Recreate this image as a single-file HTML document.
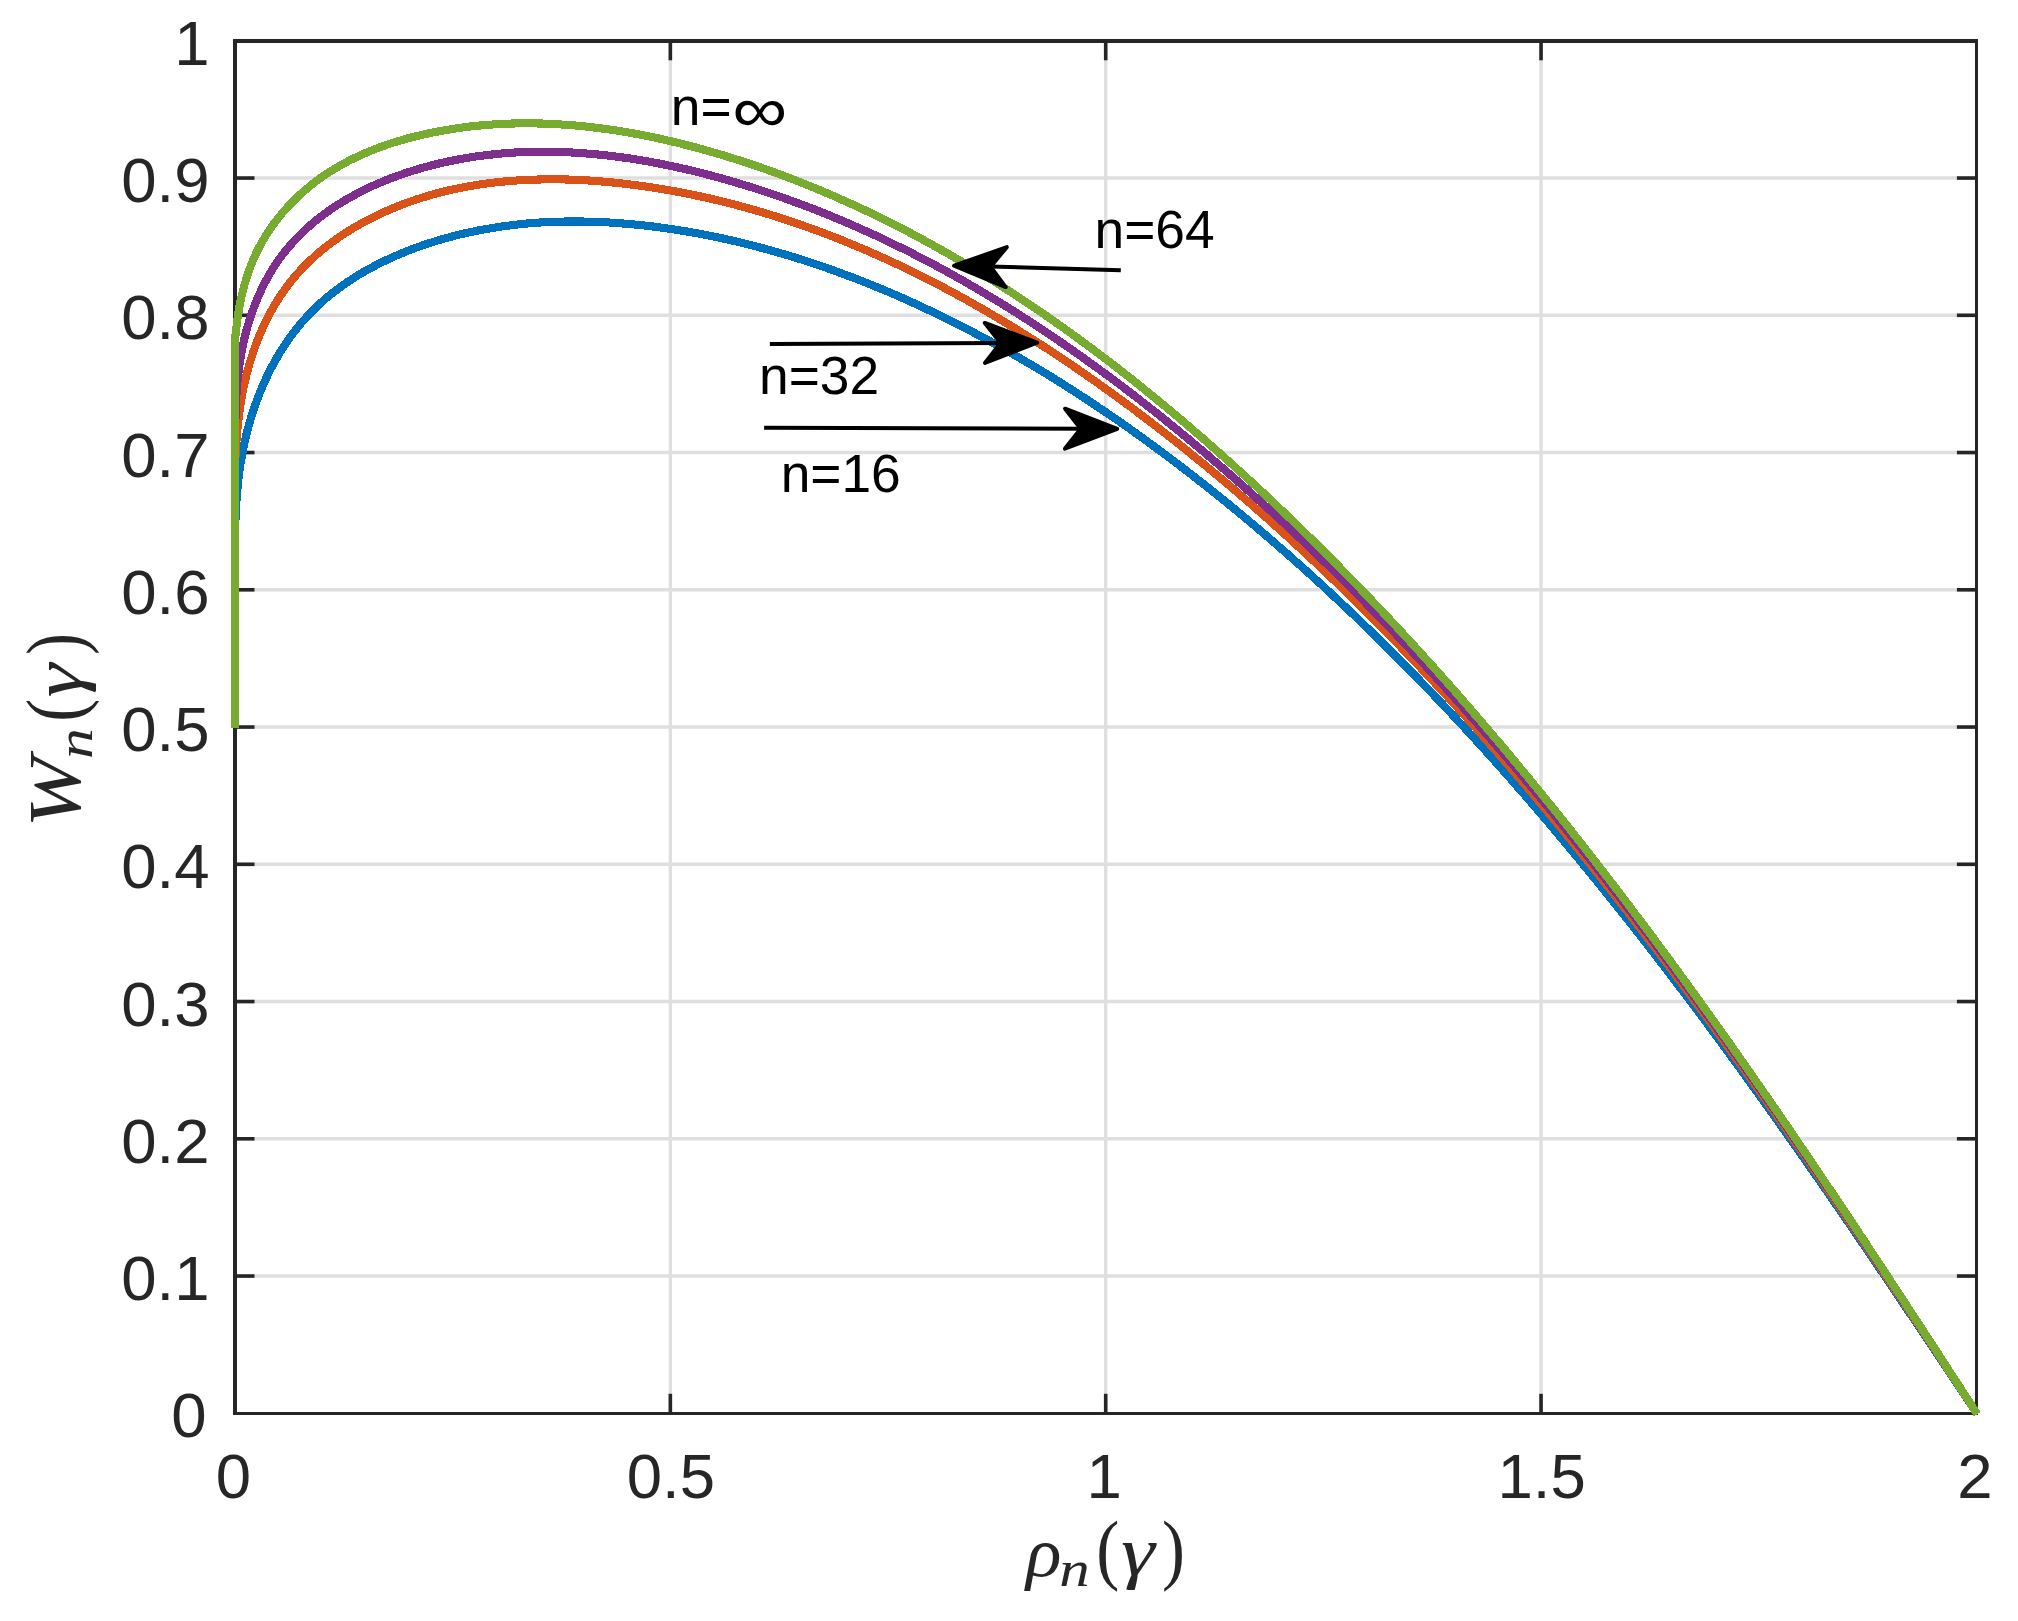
<!DOCTYPE html>
<html><head><meta charset="utf-8"><title>W_n vs rho_n</title>
<style>
html,body{margin:0;padding:0;background:#fff;overflow:hidden;}
svg{display:block;}
.tk{font-family:"Liberation Sans",sans-serif;font-size:63.5px;fill:#262626;}
.an{font-family:"Liberation Sans",sans-serif;font-size:53.3px;fill:#000;}
</style></head>
<body>
<svg width="2018" height="1621" viewBox="0 0 2018 1621">
<rect x="0" y="0" width="2018" height="1621" fill="#fff"/>
<g stroke="#dfdfdf" stroke-width="3.4" fill="none">
<line x1="235.00" x2="1976.40" y1="1276.05" y2="1276.05"/>
<line x1="235.00" x2="1976.40" y1="1138.80" y2="1138.80"/>
<line x1="235.00" x2="1976.40" y1="1001.55" y2="1001.55"/>
<line x1="235.00" x2="1976.40" y1="864.30" y2="864.30"/>
<line x1="235.00" x2="1976.40" y1="727.05" y2="727.05"/>
<line x1="235.00" x2="1976.40" y1="589.80" y2="589.80"/>
<line x1="235.00" x2="1976.40" y1="452.55" y2="452.55"/>
<line x1="235.00" x2="1976.40" y1="315.30" y2="315.30"/>
<line x1="235.00" x2="1976.40" y1="178.05" y2="178.05"/>
<line x1="670.35" x2="670.35" y1="1413.30" y2="40.80"/>
<line x1="1105.70" x2="1105.70" y1="1413.30" y2="40.80"/>
<line x1="1541.05" x2="1541.05" y1="1413.30" y2="40.80"/>
</g>
<g stroke="#262626" stroke-width="3.6" fill="none">
<line x1="235.00" x2="254.50" y1="1276.05" y2="1276.05"/>
<line x1="1976.40" x2="1956.90" y1="1276.05" y2="1276.05"/>
<line x1="235.00" x2="254.50" y1="1138.80" y2="1138.80"/>
<line x1="1976.40" x2="1956.90" y1="1138.80" y2="1138.80"/>
<line x1="235.00" x2="254.50" y1="1001.55" y2="1001.55"/>
<line x1="1976.40" x2="1956.90" y1="1001.55" y2="1001.55"/>
<line x1="235.00" x2="254.50" y1="864.30" y2="864.30"/>
<line x1="1976.40" x2="1956.90" y1="864.30" y2="864.30"/>
<line x1="235.00" x2="254.50" y1="727.05" y2="727.05"/>
<line x1="1976.40" x2="1956.90" y1="727.05" y2="727.05"/>
<line x1="235.00" x2="254.50" y1="589.80" y2="589.80"/>
<line x1="1976.40" x2="1956.90" y1="589.80" y2="589.80"/>
<line x1="235.00" x2="254.50" y1="452.55" y2="452.55"/>
<line x1="1976.40" x2="1956.90" y1="452.55" y2="452.55"/>
<line x1="235.00" x2="254.50" y1="315.30" y2="315.30"/>
<line x1="1976.40" x2="1956.90" y1="315.30" y2="315.30"/>
<line x1="235.00" x2="254.50" y1="178.05" y2="178.05"/>
<line x1="1976.40" x2="1956.90" y1="178.05" y2="178.05"/>
<line x1="670.35" x2="670.35" y1="1413.30" y2="1393.80"/>
<line x1="670.35" x2="670.35" y1="40.80" y2="60.30"/>
<line x1="1105.70" x2="1105.70" y1="1413.30" y2="1393.80"/>
<line x1="1105.70" x2="1105.70" y1="40.80" y2="60.30"/>
<line x1="1541.05" x2="1541.05" y1="1413.30" y2="1393.80"/>
<line x1="1541.05" x2="1541.05" y1="40.80" y2="60.30"/>
</g>
<g stroke="#262626" fill="none">
<line x1="235" y1="39" x2="235" y2="1415" stroke-width="4"/>
<line x1="233" y1="41" x2="1978" y2="41" stroke-width="3.8"/>
<line x1="1976.5" y1="39" x2="1976.5" y2="1415" stroke-width="3"/>
<line x1="233" y1="1413.5" x2="1978" y2="1413.5" stroke-width="3"/>
</g>
<g fill="none" stroke-width="8.1" stroke-linejoin="round" stroke-linecap="butt" shape-rendering="crispEdges">
<path d="M235.0 728.0 L235.0 582.6 L235.0 576.0 L235.0 569.4 L235.0 562.8 L235.0 556.2 L235.0 549.6 L235.0 543.0 L235.0 536.4 L235.2 529.7 L235.3 523.1 L235.6 516.5 L235.9 509.9 L236.3 503.3 L236.7 496.7 L237.3 490.2 L237.9 483.6 L238.7 477.0 L239.5 470.5 L240.5 463.9 L241.6 457.4 L242.8 450.9 L244.1 444.4 L245.6 437.9 L247.1 431.5 L248.9 425.1 L250.7 418.7 L252.7 412.4 L254.8 406.1 L257.1 399.9 L259.4 393.7 L262.0 387.6 L264.6 381.6 L267.4 375.6 L270.3 369.7 L273.4 363.9 L276.6 358.2 L279.9 352.6 L283.4 347.0 L287.0 341.6 L290.8 336.3 L294.7 331.1 L298.7 326.0 L302.9 321.1 L307.3 316.3 L311.7 311.6 L316.4 307.0 L321.1 302.6 L326.0 298.3 L331.0 294.2 L336.2 290.2 L341.4 286.3 L346.8 282.5 L352.3 278.9 L357.8 275.4 L363.5 272.0 L369.3 268.8 L375.1 265.7 L381.0 262.7 L387.0 259.8 L393.0 257.0 L399.1 254.4 L405.3 251.8 L411.5 249.4 L417.7 247.1 L424.0 244.9 L430.4 242.8 L436.7 240.8 L443.1 238.9 L449.4 237.2 L455.8 235.5 L462.2 233.9 L468.7 232.5 L475.1 231.1 L481.6 229.8 L488.1 228.7 L494.6 227.6 L501.1 226.6 L507.6 225.7 L514.1 224.9 L520.7 224.2 L527.2 223.5 L533.8 223.0 L540.3 222.5 L546.9 222.2 L553.4 221.9 L560.0 221.7 L566.6 221.5 L573.2 221.5 L579.8 221.5 L586.4 221.6 L592.9 221.8 L599.5 222.0 L606.1 222.3 L612.7 222.7 L619.3 223.2 L625.8 223.7 L632.4 224.3 L639.0 224.9 L645.5 225.6 L652.1 226.4 L658.6 227.2 L665.1 228.1 L671.7 229.1 L678.2 230.1 L684.7 231.1 L691.1 232.2 L697.6 233.4 L704.1 234.6 L710.5 235.9 L717.0 237.2 L723.4 238.6 L729.8 240.0 L736.2 241.5 L742.6 243.0 L749.0 244.6 L755.3 246.2 L761.7 247.9 L768.0 249.6 L774.4 251.4 L780.7 253.2 L787.0 255.1 L793.3 257.0 L799.5 258.9 L805.8 260.9 L812.0 263.0 L818.3 265.1 L824.5 267.2 L830.7 269.4 L836.9 271.6 L843.0 273.9 L849.2 276.2 L855.4 278.5 L861.5 280.9 L867.6 283.3 L873.7 285.8 L879.8 288.3 L885.9 290.8 L891.9 293.4 L898.0 296.0 L904.0 298.7 L910.0 301.4 L916.0 304.1 L922.0 306.9 L927.9 309.7 L933.9 312.5 L939.8 315.4 L945.7 318.3 L951.6 321.2 L957.5 324.2 L963.4 327.2 L969.2 330.2 L975.1 333.3 L980.9 336.4 L986.7 339.5 L992.5 342.6 L998.2 345.8 L1004.0 349.0 L1009.7 352.3 L1015.4 355.5 L1021.1 358.8 L1026.8 362.2 L1032.5 365.5 L1038.2 368.9 L1043.8 372.3 L1049.4 375.7 L1055.0 379.2 L1060.6 382.7 L1066.2 386.2 L1071.7 389.8 L1077.3 393.3 L1082.8 396.9 L1088.3 400.5 L1093.8 404.2 L1099.3 407.9 L1104.8 411.5 L1110.2 415.3 L1115.6 419.0 L1121.1 422.7 L1126.5 426.5 L1131.8 430.3 L1137.2 434.2 L1142.6 438.0 L1147.9 441.9 L1153.2 445.8 L1158.5 449.7 L1163.8 453.6 L1169.1 457.6 L1174.4 461.5 L1179.6 465.5 L1184.9 469.5 L1190.1 473.6 L1195.3 477.6 L1200.5 481.7 L1205.7 485.7 L1210.8 489.8 L1216.0 494.0 L1221.1 498.1 L1226.2 502.2 L1231.3 506.4 L1236.4 510.6 L1241.5 514.8 L1246.5 519.0 L1251.6 523.2 L1256.6 527.5 L1261.6 531.7 L1266.6 536.0 L1271.6 540.3 L1276.6 544.6 L1281.5 548.9 L1286.5 553.2 L1291.4 557.6 L1296.3 562.0 L1301.2 566.3 L1306.1 570.7 L1311.0 575.1 L1315.8 579.6 L1320.7 584.0 L1325.5 588.4 L1330.3 592.9 L1335.1 597.4 L1339.9 601.9 L1344.7 606.4 L1349.5 610.9 L1354.2 615.4 L1359.0 620.0 L1363.7 624.5 L1368.4 629.1 L1373.1 633.7 L1377.8 638.3 L1382.5 642.9 L1387.2 647.5 L1391.8 652.1 L1396.5 656.8 L1401.1 661.4 L1405.7 666.1 L1410.3 670.8 L1414.9 675.5 L1419.5 680.2 L1424.1 684.9 L1428.6 689.7 L1433.2 694.4 L1437.7 699.2 L1442.2 703.9 L1446.8 708.7 L1451.3 713.5 L1455.7 718.3 L1460.2 723.1 L1464.7 727.9 L1469.1 732.8 L1473.6 737.6 L1478.0 742.5 L1482.4 747.4 L1486.9 752.2 L1491.3 757.1 L1495.7 762.0 L1500.0 766.9 L1504.4 771.9 L1508.8 776.8 L1513.1 781.7 L1517.4 786.7 L1521.8 791.6 L1526.1 796.6 L1530.4 801.6 L1534.7 806.6 L1539.0 811.6 L1543.3 816.6 L1547.5 821.6 L1551.8 826.6 L1556.0 831.7 L1560.3 836.7 L1564.5 841.8 L1568.7 846.8 L1572.9 851.9 L1577.1 857.0 L1581.3 862.1 L1585.5 867.2 L1589.7 872.3 L1593.8 877.4 L1598.0 882.5 L1602.1 887.6 L1606.3 892.8 L1610.4 897.9 L1614.5 903.1 L1618.6 908.2 L1622.7 913.4 L1626.8 918.6 L1630.9 923.7 L1635.0 928.9 L1639.1 934.1 L1643.1 939.3 L1647.2 944.5 L1651.2 949.8 L1655.3 955.0 L1659.3 960.2 L1663.3 965.4 L1667.3 970.7 L1671.3 975.9 L1675.3 981.2 L1679.3 986.5 L1683.3 991.7 L1687.3 997.0 L1691.2 1002.3 L1695.2 1007.6 L1699.1 1012.9 L1703.1 1018.1 L1707.0 1023.4 L1711.0 1028.8 L1714.9 1034.1 L1718.8 1039.4 L1722.7 1044.7 L1726.6 1050.0 L1730.5 1055.4 L1734.4 1060.7 L1738.3 1066.0 L1742.2 1071.4 L1746.0 1076.7 L1749.9 1082.1 L1753.7 1087.5 L1757.6 1092.8 L1761.4 1098.2 L1765.3 1103.6 L1769.1 1108.9 L1773.0 1114.3 L1776.8 1119.7 L1780.6 1125.1 L1784.4 1130.5 L1788.2 1135.9 L1792.0 1141.3 L1795.8 1146.7 L1799.6 1152.1 L1803.4 1157.5 L1807.2 1162.9 L1810.9 1168.3 L1814.7 1173.7 L1818.5 1179.1 L1822.2 1184.5 L1826.0 1189.9 L1829.7 1195.4 L1833.5 1200.8 L1837.2 1206.2 L1840.9 1211.6 L1844.7 1217.1 L1848.4 1222.5 L1852.1 1227.9 L1855.8 1233.4 L1859.5 1238.8 L1863.2 1244.3 L1867.0 1249.7 L1870.7 1255.1 L1874.3 1260.6 L1878.0 1266.0 L1881.7 1271.5 L1885.4 1276.9 L1889.1 1282.4 L1892.8 1287.8 L1896.4 1293.3 L1900.1 1298.7 L1903.8 1304.2 L1907.4 1309.6 L1911.1 1315.1 L1914.8 1320.5 L1918.4 1325.9 L1922.1 1331.4 L1925.7 1336.8 L1929.4 1342.3 L1933.0 1347.7 L1936.6 1353.2 L1940.3 1358.6 L1943.9 1364.1 L1947.5 1369.5 L1951.2 1375.0 L1954.8 1380.4 L1958.4 1385.8 L1962.0 1391.3 L1965.7 1396.7 L1969.3 1402.2 L1972.9 1407.6 L1977.2 1414.0" stroke="#0072BD"/>
<path d="M235.0 728.0 L235.0 544.7 L235.0 538.0 L235.0 531.2 L235.0 524.4 L235.0 517.7 L235.0 510.9 L235.0 504.1 L235.0 497.3 L235.0 490.5 L235.0 483.7 L235.0 476.9 L235.0 470.1 L235.2 463.3 L235.5 456.5 L235.9 449.6 L236.3 442.8 L236.8 436.0 L237.4 429.2 L238.1 422.4 L238.9 415.7 L239.8 408.9 L240.8 402.2 L242.0 395.4 L243.3 388.7 L244.8 382.1 L246.3 375.5 L248.1 368.9 L249.9 362.3 L252.0 355.9 L254.1 349.5 L256.4 343.1 L258.9 336.8 L261.5 330.7 L264.3 324.5 L267.2 318.5 L270.3 312.6 L273.6 306.8 L277.0 301.1 L280.6 295.5 L284.4 290.0 L288.4 284.6 L292.5 279.4 L296.8 274.3 L301.2 269.4 L305.9 264.6 L310.7 259.9 L315.7 255.4 L320.8 251.0 L326.0 246.8 L331.4 242.7 L336.9 238.7 L342.5 234.9 L348.2 231.2 L354.1 227.6 L360.0 224.2 L366.0 220.9 L372.0 217.8 L378.2 214.8 L384.4 211.9 L390.6 209.2 L396.9 206.6 L403.2 204.1 L409.6 201.8 L416.0 199.6 L422.4 197.5 L428.9 195.6 L435.4 193.7 L441.9 192.0 L448.5 190.4 L455.1 189.0 L461.7 187.6 L468.4 186.3 L475.0 185.2 L481.7 184.2 L488.4 183.2 L495.2 182.4 L501.9 181.7 L508.7 181.1 L515.4 180.6 L522.2 180.1 L529.0 179.8 L535.8 179.6 L542.7 179.4 L549.5 179.3 L556.3 179.3 L563.1 179.4 L570.0 179.6 L576.8 179.9 L583.6 180.2 L590.4 180.6 L597.3 181.1 L604.1 181.7 L610.9 182.3 L617.7 183.0 L624.4 183.7 L631.2 184.6 L638.0 185.4 L644.7 186.4 L651.4 187.4 L658.1 188.4 L664.8 189.5 L671.5 190.7 L678.1 191.9 L684.8 193.2 L691.4 194.5 L698.0 195.9 L704.6 197.3 L711.2 198.8 L717.8 200.4 L724.3 202.0 L730.8 203.6 L737.3 205.3 L743.8 207.1 L750.3 208.9 L756.8 210.7 L763.2 212.6 L769.7 214.6 L776.1 216.6 L782.5 218.6 L788.9 220.7 L795.2 222.9 L801.6 225.1 L807.9 227.3 L814.3 229.6 L820.6 231.9 L826.9 234.3 L833.1 236.7 L839.4 239.2 L845.6 241.7 L851.9 244.3 L858.1 246.9 L864.3 249.5 L870.4 252.2 L876.6 254.9 L882.8 257.7 L888.9 260.5 L895.0 263.3 L901.1 266.2 L907.2 269.1 L913.3 272.1 L919.3 275.0 L925.3 278.1 L931.4 281.1 L937.4 284.3 L943.4 287.4 L949.3 290.6 L955.3 293.8 L961.2 297.0 L967.1 300.3 L973.0 303.6 L978.9 307.0 L984.8 310.3 L990.7 313.8 L996.5 317.2 L1002.3 320.7 L1008.2 324.2 L1014.0 327.7 L1019.7 331.3 L1025.5 334.9 L1031.2 338.5 L1037.0 342.1 L1042.7 345.8 L1048.4 349.5 L1054.1 353.3 L1059.7 357.0 L1065.4 360.8 L1071.0 364.6 L1076.6 368.4 L1082.3 372.3 L1087.8 376.2 L1093.4 380.1 L1099.0 384.0 L1104.5 388.0 L1110.0 391.9 L1115.5 395.9 L1121.0 399.9 L1126.5 404.0 L1132.0 408.0 L1137.4 412.1 L1142.8 416.2 L1148.2 420.3 L1153.6 424.4 L1159.0 428.6 L1164.4 432.8 L1169.7 436.9 L1175.1 441.1 L1180.4 445.4 L1185.7 449.6 L1190.9 453.8 L1196.2 458.1 L1201.5 462.4 L1206.7 466.7 L1211.9 471.0 L1217.1 475.3 L1222.3 479.7 L1227.5 484.0 L1232.7 488.4 L1237.8 492.8 L1242.9 497.2 L1248.1 501.6 L1253.2 506.1 L1258.2 510.5 L1263.3 515.0 L1268.4 519.5 L1273.4 524.0 L1278.4 528.5 L1283.5 533.0 L1288.5 537.6 L1293.4 542.1 L1298.4 546.7 L1303.4 551.3 L1308.3 555.9 L1313.2 560.5 L1318.2 565.1 L1323.1 569.8 L1328.0 574.4 L1332.8 579.1 L1337.7 583.8 L1342.5 588.5 L1347.4 593.2 L1352.2 597.9 L1357.0 602.7 L1361.8 607.4 L1366.6 612.2 L1371.3 617.0 L1376.1 621.8 L1380.9 626.6 L1385.6 631.4 L1390.3 636.2 L1395.0 641.1 L1399.7 645.9 L1404.4 650.8 L1409.0 655.7 L1413.7 660.6 L1418.4 665.5 L1423.0 670.4 L1427.6 675.3 L1432.2 680.2 L1436.8 685.2 L1441.4 690.1 L1446.0 695.1 L1450.5 700.1 L1455.1 705.1 L1459.6 710.1 L1464.1 715.1 L1468.7 720.2 L1473.2 725.2 L1477.7 730.2 L1482.1 735.3 L1486.6 740.4 L1491.1 745.5 L1495.5 750.5 L1500.0 755.6 L1504.4 760.8 L1508.8 765.9 L1513.2 771.0 L1517.6 776.2 L1522.0 781.3 L1526.4 786.5 L1530.7 791.6 L1535.1 796.8 L1539.4 802.0 L1543.8 807.2 L1548.1 812.4 L1552.4 817.6 L1556.7 822.9 L1561.0 828.1 L1565.3 833.3 L1569.6 838.6 L1573.8 843.9 L1578.1 849.1 L1582.3 854.4 L1586.6 859.7 L1590.8 865.0 L1595.0 870.3 L1599.2 875.6 L1603.4 880.9 L1607.6 886.2 L1611.8 891.6 L1616.0 896.9 L1620.1 902.3 L1624.3 907.6 L1628.5 913.0 L1632.6 918.4 L1636.7 923.7 L1640.8 929.1 L1645.0 934.5 L1649.1 939.9 L1653.2 945.3 L1657.3 950.7 L1661.4 956.1 L1665.4 961.6 L1669.5 967.0 L1673.6 972.4 L1677.6 977.9 L1681.7 983.3 L1685.7 988.8 L1689.7 994.2 L1693.7 999.7 L1697.8 1005.2 L1701.8 1010.6 L1705.8 1016.1 L1709.8 1021.6 L1713.8 1027.1 L1717.7 1032.6 L1721.7 1038.1 L1725.7 1043.6 L1729.6 1049.1 L1733.6 1054.7 L1737.5 1060.2 L1741.5 1065.7 L1745.4 1071.2 L1749.4 1076.8 L1753.3 1082.3 L1757.2 1087.8 L1761.1 1093.4 L1765.0 1098.9 L1768.9 1104.5 L1772.8 1110.1 L1776.7 1115.6 L1780.6 1121.2 L1784.5 1126.8 L1788.3 1132.3 L1792.2 1137.9 L1796.0 1143.5 L1799.9 1149.1 L1803.8 1154.7 L1807.6 1160.2 L1811.4 1165.8 L1815.3 1171.4 L1819.1 1177.0 L1822.9 1182.6 L1826.8 1188.2 L1830.6 1193.8 L1834.4 1199.4 L1838.2 1205.0 L1842.0 1210.6 L1845.8 1216.3 L1849.6 1221.9 L1853.4 1227.5 L1857.2 1233.1 L1860.9 1238.7 L1864.7 1244.3 L1868.5 1250.0 L1872.3 1255.6 L1876.0 1261.2 L1879.8 1266.8 L1883.6 1272.4 L1887.3 1278.1 L1891.1 1283.7 L1894.8 1289.3 L1898.6 1295.0 L1902.3 1300.6 L1906.0 1306.2 L1909.8 1311.8 L1913.5 1317.5 L1917.2 1323.1 L1921.0 1328.7 L1924.7 1334.3 L1928.4 1340.0 L1932.1 1345.6 L1935.9 1351.2 L1939.6 1356.8 L1943.3 1362.5 L1947.0 1368.1 L1950.7 1373.7 L1954.4 1379.3 L1958.1 1385.0 L1961.8 1390.6 L1965.5 1396.2 L1969.2 1401.8 L1972.9 1407.4 L1977.3 1414.0" stroke="#D95319"/>
<path d="M235.0 728.0 L235.0 506.9 L235.0 500.0 L235.0 493.1 L235.0 486.2 L235.0 479.3 L235.0 472.5 L235.0 465.6 L235.0 458.7 L235.1 451.8 L235.1 444.9 L235.1 438.0 L235.2 431.1 L235.3 424.2 L235.5 417.3 L235.7 410.4 L236.0 403.6 L236.3 396.7 L236.8 389.8 L237.4 382.9 L238.0 376.1 L238.9 369.2 L239.8 362.4 L240.9 355.5 L242.2 348.7 L243.6 341.9 L245.2 335.1 L247.0 328.4 L249.0 321.7 L251.1 315.0 L253.5 308.4 L256.0 301.9 L258.7 295.5 L261.6 289.2 L264.6 283.1 L267.9 277.0 L271.3 271.1 L275.0 265.3 L278.8 259.7 L282.9 254.2 L287.1 248.9 L291.5 243.8 L296.0 238.8 L300.8 234.0 L305.7 229.3 L310.7 224.8 L315.9 220.5 L321.2 216.3 L326.7 212.3 L332.3 208.4 L338.0 204.6 L343.8 201.0 L349.8 197.6 L355.8 194.3 L361.9 191.1 L368.1 188.0 L374.4 185.1 L380.8 182.4 L387.3 179.7 L393.8 177.2 L400.3 174.9 L406.9 172.6 L413.6 170.5 L420.2 168.5 L427.0 166.6 L433.7 164.8 L440.4 163.2 L447.2 161.7 L454.0 160.3 L460.8 159.0 L467.6 157.8 L474.4 156.7 L481.2 155.8 L488.0 154.9 L494.9 154.2 L501.7 153.5 L508.6 153.0 L515.4 152.5 L522.3 152.2 L529.1 152.0 L536.0 151.8 L542.9 151.7 L549.8 151.8 L556.6 151.9 L563.5 152.1 L570.4 152.4 L577.3 152.8 L584.2 153.3 L591.0 153.9 L597.9 154.5 L604.8 155.2 L611.6 156.0 L618.5 156.9 L625.3 157.8 L632.2 158.8 L639.0 159.9 L645.8 161.1 L652.7 162.3 L659.5 163.6 L666.3 165.0 L673.0 166.4 L679.8 167.9 L686.6 169.4 L693.3 171.0 L700.1 172.7 L706.8 174.4 L713.5 176.2 L720.2 178.0 L726.8 179.9 L733.5 181.8 L740.1 183.8 L746.7 185.8 L753.3 187.8 L759.9 190.0 L766.4 192.1 L773.0 194.3 L779.5 196.5 L786.0 198.8 L792.4 201.2 L798.9 203.5 L805.3 205.9 L811.8 208.4 L818.2 210.9 L824.5 213.4 L830.9 216.0 L837.2 218.7 L843.6 221.3 L849.9 224.0 L856.2 226.8 L862.4 229.6 L868.7 232.4 L874.9 235.2 L881.2 238.2 L887.3 241.1 L893.5 244.1 L899.7 247.1 L905.8 250.1 L912.0 253.2 L918.1 256.4 L924.2 259.5 L930.2 262.7 L936.3 265.9 L942.3 269.2 L948.4 272.5 L954.4 275.9 L960.4 279.2 L966.3 282.6 L972.3 286.1 L978.2 289.5 L984.1 293.0 L990.0 296.6 L995.9 300.1 L1001.8 303.7 L1007.6 307.3 L1013.5 311.0 L1019.3 314.7 L1025.1 318.4 L1030.8 322.1 L1036.6 325.9 L1042.4 329.7 L1048.1 333.5 L1053.8 337.4 L1059.5 341.3 L1065.2 345.2 L1070.8 349.1 L1076.5 353.1 L1082.1 357.0 L1087.7 361.1 L1093.3 365.1 L1098.9 369.2 L1104.5 373.2 L1110.0 377.3 L1115.6 381.5 L1121.1 385.6 L1126.6 389.8 L1132.1 394.0 L1137.6 398.2 L1143.0 402.5 L1148.4 406.7 L1153.9 411.0 L1159.3 415.3 L1164.7 419.6 L1170.0 424.0 L1175.4 428.3 L1180.8 432.7 L1186.1 437.1 L1191.4 441.5 L1196.7 446.0 L1202.0 450.4 L1207.3 454.9 L1212.5 459.4 L1217.7 463.9 L1223.0 468.4 L1228.2 472.9 L1233.4 477.5 L1238.6 482.0 L1243.7 486.6 L1248.9 491.2 L1254.0 495.8 L1259.1 500.4 L1264.2 505.0 L1269.3 509.7 L1274.4 514.4 L1279.5 519.0 L1284.5 523.7 L1289.5 528.4 L1294.6 533.1 L1299.6 537.9 L1304.6 542.6 L1309.5 547.4 L1314.5 552.1 L1319.5 556.9 L1324.4 561.7 L1329.3 566.5 L1334.2 571.4 L1339.1 576.2 L1344.0 581.0 L1348.9 585.9 L1353.7 590.8 L1358.6 595.7 L1363.4 600.6 L1368.2 605.5 L1373.0 610.4 L1377.8 615.3 L1382.6 620.3 L1387.4 625.2 L1392.1 630.2 L1396.9 635.2 L1401.6 640.2 L1406.3 645.2 L1411.0 650.2 L1415.7 655.2 L1420.4 660.3 L1425.1 665.3 L1429.7 670.4 L1434.4 675.5 L1439.0 680.6 L1443.6 685.7 L1448.3 690.8 L1452.9 695.9 L1457.4 701.0 L1462.0 706.1 L1466.6 711.3 L1471.1 716.5 L1475.7 721.6 L1480.2 726.8 L1484.7 732.0 L1489.2 737.2 L1493.7 742.4 L1498.2 747.6 L1502.7 752.9 L1507.2 758.1 L1511.6 763.3 L1516.1 768.6 L1520.5 773.9 L1524.9 779.2 L1529.3 784.4 L1533.7 789.7 L1538.1 795.0 L1542.5 800.4 L1546.9 805.7 L1551.3 811.0 L1555.6 816.3 L1560.0 821.7 L1564.3 827.1 L1568.6 832.4 L1572.9 837.8 L1577.2 843.2 L1581.5 848.6 L1585.8 854.0 L1590.1 859.4 L1594.4 864.8 L1598.6 870.2 L1602.9 875.6 L1607.1 881.1 L1611.3 886.5 L1615.6 892.0 L1619.8 897.4 L1624.0 902.9 L1628.2 908.4 L1632.4 913.8 L1636.6 919.3 L1640.7 924.8 L1644.9 930.3 L1649.1 935.8 L1653.2 941.3 L1657.3 946.9 L1661.5 952.4 L1665.6 957.9 L1669.7 963.5 L1673.8 969.0 L1677.9 974.6 L1682.0 980.1 L1686.1 985.7 L1690.2 991.3 L1694.2 996.8 L1698.3 1002.4 L1702.4 1008.0 L1706.4 1013.6 L1710.5 1019.2 L1714.5 1024.8 L1718.5 1030.4 L1722.5 1036.0 L1726.6 1041.6 L1730.6 1047.2 L1734.6 1052.9 L1738.6 1058.5 L1742.5 1064.1 L1746.5 1069.8 L1750.5 1075.4 L1754.5 1081.1 L1758.4 1086.7 L1762.4 1092.4 L1766.3 1098.1 L1770.3 1103.7 L1774.2 1109.4 L1778.2 1115.1 L1782.1 1120.7 L1786.0 1126.4 L1789.9 1132.1 L1793.8 1137.8 L1797.7 1143.5 L1801.6 1149.2 L1805.5 1154.9 L1809.4 1160.6 L1813.3 1166.3 L1817.2 1172.0 L1821.1 1177.7 L1824.9 1183.4 L1828.8 1189.1 L1832.7 1194.8 L1836.5 1200.6 L1840.4 1206.3 L1844.2 1212.0 L1848.1 1217.7 L1851.9 1223.5 L1855.7 1229.2 L1859.5 1234.9 L1863.4 1240.7 L1867.2 1246.4 L1871.0 1252.1 L1874.8 1257.9 L1878.6 1263.6 L1882.4 1269.4 L1886.2 1275.1 L1890.0 1280.9 L1893.8 1286.6 L1897.6 1292.3 L1901.4 1298.1 L1905.2 1303.8 L1909.0 1309.6 L1912.7 1315.3 L1916.5 1321.1 L1920.3 1326.8 L1924.1 1332.6 L1927.8 1338.4 L1931.6 1344.1 L1935.3 1349.9 L1939.1 1355.6 L1942.9 1361.4 L1946.6 1367.1 L1950.4 1372.9 L1954.1 1378.6 L1957.9 1384.4 L1961.6 1390.1 L1965.3 1395.9 L1969.1 1401.6 L1972.8 1407.4 L1977.2 1414.1" stroke="#7E2F8E"/>
<path d="M235.0 728.0 L235.0 390.9 L235.0 383.8 L235.0 376.7 L235.0 369.5 L235.0 362.4 L235.0 355.3 L235.0 348.3 L235.0 341.2 L235.6 334.1 L236.4 327.1 L237.3 320.1 L238.3 313.1 L239.5 306.1 L240.9 299.3 L242.5 292.5 L244.2 285.7 L246.2 279.0 L248.3 272.4 L250.7 266.0 L253.3 259.6 L256.1 253.3 L259.2 247.1 L262.5 241.1 L266.1 235.1 L269.9 229.3 L273.9 223.7 L278.1 218.2 L282.5 212.8 L287.1 207.6 L291.9 202.5 L296.8 197.6 L302.0 192.8 L307.3 188.3 L312.7 183.8 L318.3 179.6 L324.0 175.5 L329.9 171.7 L335.9 168.0 L342.0 164.5 L348.2 161.1 L354.5 158.0 L360.9 155.0 L367.3 152.2 L373.9 149.5 L380.5 147.0 L387.2 144.6 L394.0 142.4 L400.8 140.4 L407.6 138.4 L414.5 136.6 L421.4 135.0 L428.4 133.4 L435.3 132.0 L442.3 130.7 L449.3 129.5 L456.2 128.4 L463.2 127.4 L470.2 126.5 L477.2 125.8 L484.2 125.1 L491.2 124.6 L498.2 124.1 L505.3 123.8 L512.3 123.5 L519.3 123.4 L526.3 123.3 L533.3 123.4 L540.4 123.5 L547.4 123.7 L554.4 124.1 L561.4 124.5 L568.4 125.0 L575.4 125.5 L582.4 126.2 L589.4 126.9 L596.4 127.8 L603.4 128.7 L610.4 129.6 L617.4 130.7 L624.3 131.8 L631.3 133.0 L638.2 134.3 L645.2 135.6 L652.1 137.0 L659.0 138.5 L665.9 140.1 L672.8 141.7 L679.6 143.3 L686.5 145.1 L693.3 146.8 L700.2 148.7 L707.0 150.6 L713.7 152.5 L720.5 154.5 L727.3 156.6 L734.0 158.7 L740.7 160.8 L747.4 163.0 L754.1 165.2 L760.7 167.5 L767.3 169.8 L774.0 172.2 L780.5 174.6 L787.1 177.1 L793.7 179.6 L800.2 182.2 L806.7 184.8 L813.2 187.4 L819.7 190.1 L826.1 192.8 L832.5 195.5 L838.9 198.4 L845.3 201.2 L851.7 204.1 L858.1 207.0 L864.4 210.0 L870.7 213.0 L877.0 216.0 L883.3 219.1 L889.5 222.2 L895.8 225.4 L902.0 228.6 L908.2 231.8 L914.4 235.1 L920.5 238.4 L926.7 241.7 L932.8 245.1 L938.9 248.5 L945.0 252.0 L951.1 255.4 L957.1 259.0 L963.2 262.5 L969.2 266.1 L975.2 269.7 L981.2 273.4 L987.1 277.0 L993.1 280.7 L999.0 284.5 L1004.9 288.3 L1010.8 292.1 L1016.7 295.9 L1022.5 299.8 L1028.4 303.7 L1034.2 307.6 L1040.0 311.5 L1045.8 315.5 L1051.6 319.5 L1057.3 323.6 L1063.0 327.6 L1068.8 331.7 L1074.5 335.8 L1080.1 340.0 L1085.8 344.1 L1091.5 348.3 L1097.1 352.5 L1102.7 356.8 L1108.3 361.0 L1113.9 365.3 L1119.5 369.6 L1125.0 374.0 L1130.6 378.3 L1136.1 382.7 L1141.6 387.1 L1147.1 391.6 L1152.5 396.0 L1158.0 400.5 L1163.4 404.9 L1168.9 409.5 L1174.3 414.0 L1179.7 418.5 L1185.0 423.1 L1190.4 427.7 L1195.7 432.3 L1201.1 436.9 L1206.4 441.5 L1211.7 446.2 L1217.0 450.8 L1222.2 455.5 L1227.5 460.2 L1232.7 464.9 L1238.0 469.7 L1243.2 474.4 L1248.4 479.2 L1253.5 483.9 L1258.7 488.7 L1263.9 493.5 L1269.0 498.3 L1274.1 503.2 L1279.2 508.0 L1284.3 512.9 L1289.4 517.7 L1294.5 522.6 L1299.5 527.5 L1304.5 532.4 L1309.6 537.3 L1314.6 542.3 L1319.6 547.2 L1324.6 552.2 L1329.5 557.1 L1334.5 562.1 L1339.4 567.1 L1344.3 572.1 L1349.3 577.1 L1354.2 582.2 L1359.0 587.2 L1363.9 592.3 L1368.8 597.3 L1373.6 602.4 L1378.5 607.5 L1383.3 612.6 L1388.1 617.7 L1392.9 622.8 L1397.7 628.0 L1402.5 633.1 L1407.2 638.3 L1412.0 643.4 L1416.7 648.6 L1421.4 653.8 L1426.1 659.0 L1430.8 664.2 L1435.5 669.4 L1440.2 674.7 L1444.9 679.9 L1449.5 685.2 L1454.2 690.4 L1458.8 695.7 L1463.4 701.0 L1468.0 706.3 L1472.6 711.6 L1477.2 716.9 L1481.8 722.2 L1486.3 727.6 L1490.9 732.9 L1495.4 738.3 L1500.0 743.6 L1504.5 749.0 L1509.0 754.4 L1513.5 759.8 L1518.0 765.2 L1522.4 770.6 L1526.9 776.0 L1531.4 781.4 L1535.8 786.9 L1540.2 792.3 L1544.7 797.8 L1549.1 803.2 L1553.5 808.7 L1557.9 814.2 L1562.3 819.6 L1566.7 825.1 L1571.0 830.6 L1575.4 836.2 L1579.7 841.7 L1584.1 847.2 L1588.4 852.7 L1592.7 858.3 L1597.0 863.8 L1601.3 869.4 L1605.6 874.9 L1609.9 880.5 L1614.2 886.1 L1618.5 891.7 L1622.7 897.3 L1627.0 902.9 L1631.2 908.5 L1635.4 914.1 L1639.7 919.7 L1643.9 925.3 L1648.1 931.0 L1652.3 936.6 L1656.5 942.3 L1660.7 947.9 L1664.8 953.6 L1669.0 959.2 L1673.2 964.9 L1677.3 970.6 L1681.5 976.3 L1685.6 982.0 L1689.7 987.7 L1693.9 993.4 L1698.0 999.1 L1702.1 1004.8 L1706.2 1010.5 L1710.3 1016.2 L1714.4 1021.9 L1718.5 1027.7 L1722.5 1033.4 L1726.6 1039.2 L1730.7 1044.9 L1734.7 1050.7 L1738.8 1056.4 L1742.8 1062.2 L1746.8 1067.9 L1750.9 1073.7 L1754.9 1079.5 L1758.9 1085.3 L1762.9 1091.1 L1766.9 1096.8 L1770.9 1102.6 L1774.9 1108.4 L1778.9 1114.2 L1782.9 1120.0 L1786.9 1125.8 L1790.8 1131.6 L1794.8 1137.5 L1798.8 1143.3 L1802.7 1149.1 L1806.7 1154.9 L1810.6 1160.8 L1814.6 1166.6 L1818.5 1172.4 L1822.4 1178.3 L1826.3 1184.1 L1830.3 1189.9 L1834.2 1195.8 L1838.1 1201.6 L1842.0 1207.5 L1845.9 1213.3 L1849.8 1219.2 L1853.7 1225.1 L1857.6 1230.9 L1861.5 1236.8 L1865.4 1242.6 L1869.2 1248.5 L1873.1 1254.4 L1877.0 1260.2 L1880.9 1266.1 L1884.7 1272.0 L1888.6 1277.9 L1892.4 1283.7 L1896.3 1289.6 L1900.1 1295.5 L1904.0 1301.4 L1907.8 1307.3 L1911.7 1313.1 L1915.5 1319.0 L1919.4 1324.9 L1923.2 1330.8 L1927.0 1336.7 L1930.8 1342.6 L1934.7 1348.4 L1938.5 1354.3 L1942.3 1360.2 L1946.1 1366.1 L1949.9 1372.0 L1953.8 1377.9 L1957.6 1383.8 L1961.4 1389.7 L1965.2 1395.5 L1969.0 1401.4 L1972.8 1407.3 L1977.2 1414.2" stroke="#77AC30"/>
</g>
<g class="tk">
<text x="206.5" y="1437.3" text-anchor="end">0</text>
<text x="209.5" y="1300.0" text-anchor="end">0.1</text>
<text x="209.5" y="1162.8" text-anchor="end">0.2</text>
<text x="209.5" y="1025.5" text-anchor="end">0.3</text>
<text x="209.5" y="888.3" text-anchor="end">0.4</text>
<text x="209.5" y="751.0" text-anchor="end">0.5</text>
<text x="209.5" y="613.8" text-anchor="end">0.6</text>
<text x="209.5" y="476.6" text-anchor="end">0.7</text>
<text x="209.5" y="339.3" text-anchor="end">0.8</text>
<text x="209.5" y="202.0" text-anchor="end">0.9</text>
<text x="209.5" y="64.8" text-anchor="end">1</text>
<text x="233.5" y="1497.5" text-anchor="middle">0</text>
<text x="670.9" y="1497.5" text-anchor="middle">0.5</text>
<text x="1104.2" y="1497.5" text-anchor="middle">1</text>
<text x="1541.6" y="1497.5" text-anchor="middle">1.5</text>
<text x="1974.9" y="1497.5" text-anchor="middle">2</text>
</g>
<line x1="1120.8" y1="270.2" x2="990.6" y2="266.6" stroke="#000" stroke-width="4.0"/><path d="M954.1 265.7 L1006.8 247.1 L990.6 266.6 L1005.7 287.1 Z" fill="#000" stroke="#000" stroke-width="4.0" stroke-linejoin="round"/>
<line x1="769.9" y1="343.9" x2="1000.6" y2="342.9" stroke="#000" stroke-width="4.0"/><path d="M1037.1 342.7 L985.0 362.9 L1000.6 342.9 L984.8 322.9 Z" fill="#000" stroke="#000" stroke-width="4.0" stroke-linejoin="round"/>
<line x1="764.1" y1="427.8" x2="1080.7" y2="428.8" stroke="#000" stroke-width="4.0"/><path d="M1117.2 428.9 L1064.9 448.7 L1080.7 428.8 L1065.1 408.7 Z" fill="#000" stroke="#000" stroke-width="4.0" stroke-linejoin="round"/>
<g class="an">
<text x="670.8" y="124.6">n=</text>
<text transform="translate(732.31 132.23) scale(0.7714 0.6526)" font-family="&quot;Liberation Sans&quot;,sans-serif" font-style="normal" font-size="100" fill="#000">∞</text>
<text x="1094.5" y="247.9">n=64</text>
<text x="759.0" y="393.6">n=32</text>
<text x="780.7" y="492.4">n=16</text>
</g>
<text transform="translate(1026.08 1575.53) scale(0.7383 0.6985)" font-family="&quot;Liberation Serif&quot;,serif" font-style="italic" font-size="100" fill="#262626">ρ</text>
<text transform="translate(1059.15 1586.10) scale(0.6100 0.5000)" font-family="&quot;Liberation Serif&quot;,serif" font-style="italic" font-size="100" fill="#262626">n</text>
<text transform="translate(1096.13 1575.38) scale(0.6923 0.7867)" font-family="&quot;Liberation Serif&quot;,serif" font-style="normal" font-size="100" fill="#262626">(</text>
<text transform="translate(1120.93 1575.04) scale(0.8576 0.7030)" font-family="&quot;Liberation Serif&quot;,serif" font-style="italic" font-size="100" fill="#262626">γ</text>
<text transform="translate(1161.93 1575.38) scale(0.6885 0.7867)" font-family="&quot;Liberation Serif&quot;,serif" font-style="normal" font-size="100" fill="#262626">)</text>
<g transform="translate(0 821.5) rotate(-90)">
<text transform="translate(-5.92 80.43) scale(0.8452 0.7358)" font-family="&quot;Liberation Serif&quot;,serif" font-style="italic" font-size="100" fill="#262626">W</text>
<text transform="translate(62.46 91.80) scale(0.6178 0.5064)" font-family="&quot;Liberation Serif&quot;,serif" font-style="italic" font-size="100" fill="#262626">n</text>
<text transform="translate(99.73 81.88) scale(0.6923 0.8011)" font-family="&quot;Liberation Serif&quot;,serif" font-style="normal" font-size="100" fill="#262626">(</text>
<text transform="translate(124.10 80.87) scale(0.8613 0.7060)" font-family="&quot;Liberation Serif&quot;,serif" font-style="italic" font-size="100" fill="#262626">γ</text>
<text transform="translate(166.76 81.88) scale(0.6462 0.8011)" font-family="&quot;Liberation Serif&quot;,serif" font-style="normal" font-size="100" fill="#262626">)</text>
</g>
</svg>
</body></html>
